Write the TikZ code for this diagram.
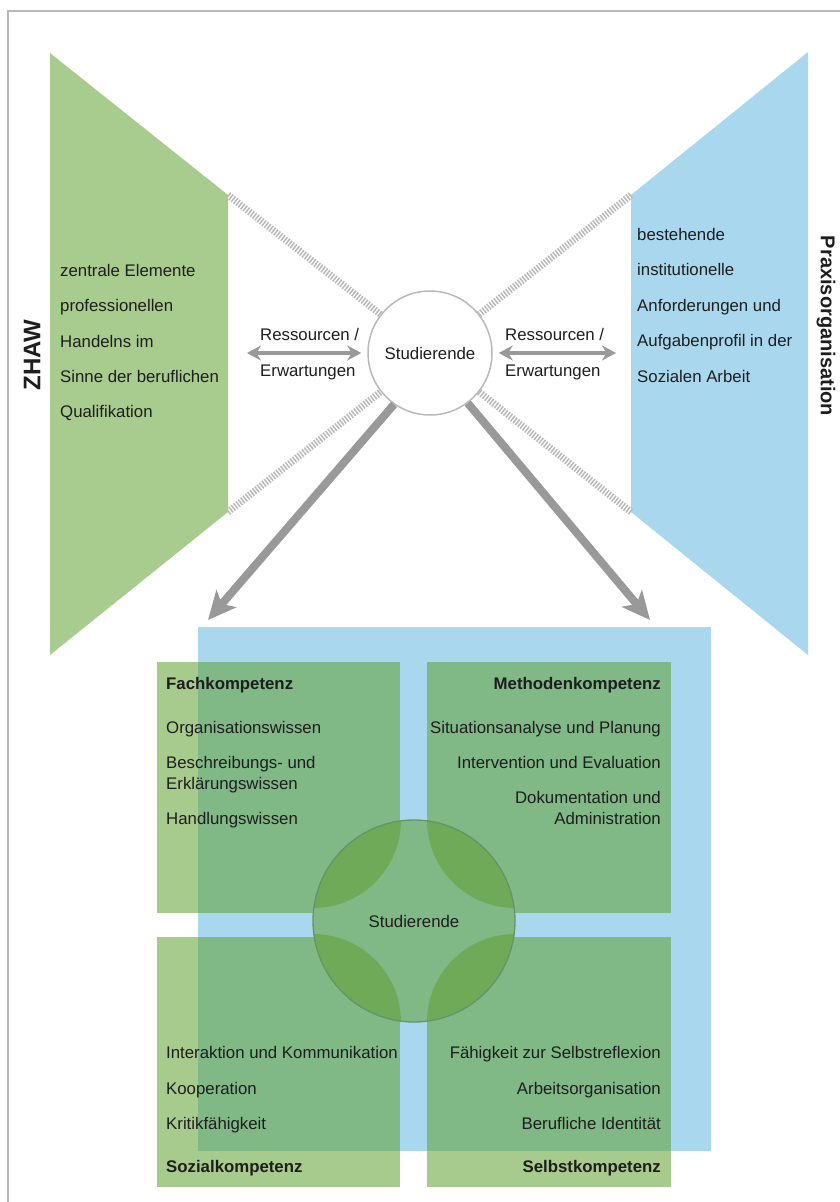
\documentclass[tikz,border=0pt]{standalone}
\usepackage{fontspec}
\setmainfont{Liberation Sans}
\usetikzlibrary{arrows.meta,positioning}

\definecolor{zgreen}{RGB}{168,203,142}
\definecolor{pblue}{RGB}{169,215,238}
\definecolor{kgreen}{RGB}{96,160,49}
\definecolor{gapgreen}{RGB}{129,185,134}
\definecolor{arrowgray}{RGB}{153,153,153}
\definecolor{txt}{RGB}{30,30,30}

\tikzset{
  lbl/.style={font=\fontsize{16.8}{20}\selectfont, text=txt, inner sep=0pt},
  ttl/.style={font=\fontsize{16.8}{20}\selectfont\bfseries, text=txt, inner sep=0pt},
  hatch/.style={line width=7pt, draw=gray!55, dash pattern=on 1.5pt off 1.5pt},
  dblarrow/.style={line width=4pt, draw=arrowgray, {Stealth[length=14pt,width=15pt]}-{Stealth[length=14pt,width=15pt]}},
  bigarrow/.style={line width=8pt, draw=arrowgray, -{Stealth[length=28pt,width=26pt,inset=7pt]}},
  quad/.style={fill=kgreen, fill opacity=0.55}
}

\begin{document}
\begin{tikzpicture}[x=1pt,y=-1pt]
  %%%%% frame %%%%%
  \useasboundingbox (0,0) rectangle (840,1202);
  \fill[white] (0,0) rectangle (840,1202);
  \draw[gray!55, line width=2pt] (8,1202) -- (8,11) -- (840,11);

  %%%%% upper part %%%%%
  \coordinate (zA) at (228,195);
  \coordinate (zB) at (228,512);
  \coordinate (pA) at (631,195);
  \coordinate (pB) at (631,512);

  \fill[zgreen] (50,53) -- (zA) -- (zB) -- (50,655) -- cycle;
  \fill[pblue] (808,52) -- (pA) -- (pB) -- (808,655) -- cycle;

  \node[circle, draw=gray!55, line width=1.5pt, fill=white, minimum size=124pt, inner sep=0pt, lbl] (stud) at (430,353) {Studierende};

  \draw[hatch] (zA) -- (stud);
  \draw[hatch] (zB) -- (stud);
  \draw[hatch] (pA) -- (stud);
  \draw[hatch] (pB) -- (stud);

  \node[ttl, font=\fontsize{24}{26}\selectfont\bfseries, rotate=90] (zhaw) at (32,355) {ZHAW};
  \node[ttl, font=\fontsize{20}{24}\selectfont\bfseries, rotate=-90] (praxis) at (826,326) {Praxisorganisation};

  \node[lbl, anchor=base west] (z1) at (60,276) {zentrale Elemente};
  \node[lbl, anchor=base west] (z2) at (60,311) {professionellen};
  \node[lbl, anchor=base west] (z3) at (60,347) {Handelns im};
  \node[lbl, anchor=base west] (z4) at (60,382) {Sinne der beruflichen};
  \node[lbl, anchor=base west] (z5) at (60,417) {Qualifikation};

  \node[lbl, anchor=base west] (p1) at (637,240) {bestehende};
  \node[lbl, anchor=base west] (p2) at (637,275) {institutionelle};
  \node[lbl, anchor=base west] (p3) at (637,311) {Anforderungen und};
  \node[lbl, anchor=base west] (p4) at (637,346) {Aufgabenprofil in der};
  \node[lbl, anchor=base west] (p5) at (637,382) {Sozialen Arbeit};

  % resources / expectations
  \coordinate (resL) at (247,353);
  \coordinate (resR) at (616,353);
  \draw[dblarrow] (resL) -- ([xshift=-6pt]stud.west);
  \draw[dblarrow] ([xshift=6pt]stud.east) -- (resR);
  \node[lbl, anchor=base west] (rl1) at (260,340) {Ressourcen /};
  \node[lbl, anchor=base west] (rl2) at (260,376) {Erwartungen};
  \node[lbl, anchor=base west] (rr1) at (505,340) {Ressourcen /};
  \node[lbl, anchor=base west] (rr2) at (505,376) {Erwartungen};

  \coordinate (tipL) at (208,620);
  \coordinate (tipR) at (650,620);
  \draw[bigarrow] (stud.-125) -- (tipL);
  \draw[bigarrow] (stud.-53) -- (tipR);

  %%%%% lower part %%%%%
  \fill[pblue] (198,627) rectangle (711,1151);
  \fill[quad] (157,662) rectangle (400,913);
  \fill[quad] (427,662) rectangle (671,913);
  \fill[quad] (157,937) rectangle (400,1187);
  \fill[quad] (427,937) rectangle (671,1187);

  % core circle: gaps filled, darker lenses at the four corners
  \begin{scope}
    \clip (414,921) circle (101);
    \fill[gapgreen] (400,815) rectangle (427,1030);
    \fill[gapgreen] (308,913) rectangle (520,937);
    \fill[quad] (313,820) circle (88);
    \fill[quad] (515,820) circle (88);
    \fill[quad] (313,1022) circle (88);
    \fill[quad] (515,1022) circle (88);
  \end{scope}
  \node[circle, minimum size=202pt, inner sep=0pt, draw=black!70!green!60, line width=1.3pt, lbl] (kern) at (414,921) {Studierende};

  \node[ttl, anchor=base west] (fach) at (166,689) {Fachkompetenz};
  \node[lbl, anchor=base west] (f1) at (166,733) {Organisationswissen};
  \node[lbl, anchor=base west] (f2) at (166,768) {Beschreibungs- und};
  \node[lbl, anchor=base west] (f3) at (166,789) {Erklärungswissen};
  \node[lbl, anchor=base west] (f4) at (166,824) {Handlungswissen};

  \node[ttl, anchor=base east] (methoden) at (661,689) {Methodenkompetenz};
  \node[lbl, anchor=base east] (m1) at (661,733) {Situationsanalyse und Planung};
  \node[lbl, anchor=base east] (m2) at (661,768) {Intervention und Evaluation};
  \node[lbl, anchor=base east] (m3) at (661,803) {Dokumentation und};
  \node[lbl, anchor=base east] (m4) at (661,824) {Administration};

  \node[lbl, anchor=base west] (s1) at (166,1058) {Interaktion und Kommunikation};
  \node[lbl, anchor=base west] (s2) at (166,1094) {Kooperation};
  \node[lbl, anchor=base west] (s3) at (166,1129) {Kritikfähigkeit};
  \node[ttl, anchor=base west] (sozial) at (166,1172) {Sozialkompetenz};

  \node[lbl, anchor=base east] (b1) at (661,1058) {Fähigkeit zur Selbstreflexion};
  \node[lbl, anchor=base east] (b2) at (661,1094) {Arbeitsorganisation};
  \node[lbl, anchor=base east] (b3) at (661,1129) {Berufliche Identität};
  \node[ttl, anchor=base east] (selbst) at (661,1172) {Selbstkompetenz};
\end{tikzpicture}
\end{document}
